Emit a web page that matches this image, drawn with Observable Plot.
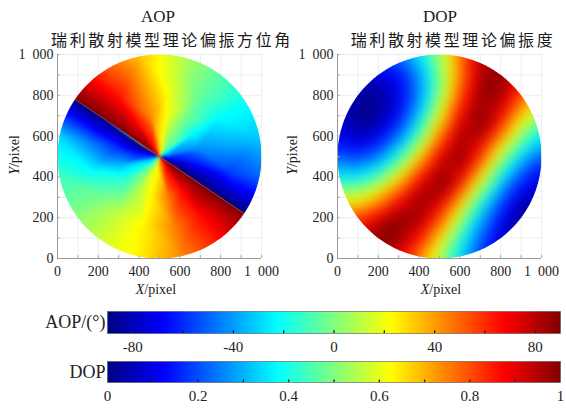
<!DOCTYPE html>
<html><head><meta charset="utf-8">
<script src="https://cdn.jsdelivr.net/npm/d3@7"></script>
<script src="https://cdn.jsdelivr.net/npm/@observablehq/plot@0.6"></script>
<style>
body{margin:0;background:#fff;}
#fig{position:relative;width:566px;height:408px;overflow:hidden;background:#fff;font-family:"Liberation Serif","Times New Roman",serif;color:#1a1a1a;}
.abs{position:absolute;white-space:nowrap;line-height:1;}
.c{transform:translate(-50%,-50%);}
.t1{font-size:17px;}
.t2{font-family:"Noto Sans CJK SC",sans-serif;font-size:16px;letter-spacing:2.6px;}
.lab{font-size:14px;}
.rot{transform:translate(-50%,-50%) rotate(-90deg);}
svg{position:absolute;overflow:visible;}
</style></head><body><div id="fig"></div>
<script>
// ---------- data ----------
const gridX = [0, 100, 200, 300, 400, 500, 600, 700, 800, 900, 1000];
const gridY = [1000, 900, 800, 700, 600, 500, 400, 300, 200, 100, 0];
// DOP sampled on the 100-pixel grid (rows: y = 1000 ... 0)
const dopRows = [
  [0.43, 0.28, 0.22, 0.25, 0.36, 0.54, 0.76, 0.94, 1.00, 0.95, 0.86],
  [0.23, 0.11, 0.08, 0.13, 0.27, 0.49, 0.75, 0.95, 0.99, 0.90, 0.78],
  [0.12, 0.03, 0.02, 0.10, 0.26, 0.51, 0.80, 0.98, 0.97, 0.81, 0.66],
  [0.08, 0.01, 0.03, 0.13, 0.33, 0.61, 0.89, 1.00, 0.89, 0.68, 0.51],
  [0.11, 0.06, 0.10, 0.23, 0.46, 0.76, 0.97, 0.96, 0.75, 0.51, 0.35],
  [0.21, 0.18, 0.24, 0.41, 0.66, 0.91, 1.00, 0.83, 0.56, 0.34, 0.21],
  [0.37, 0.36, 0.45, 0.63, 0.86, 1.00, 0.91, 0.65, 0.38, 0.19, 0.10],
  [0.58, 0.59, 0.69, 0.85, 0.99, 0.96, 0.74, 0.46, 0.23, 0.08, 0.03],
  [0.79, 0.81, 0.90, 0.99, 0.98, 0.82, 0.56, 0.31, 0.13, 0.03, 0.00],
  [0.94, 0.96, 1.00, 0.98, 0.87, 0.66, 0.42, 0.22, 0.08, 0.02, 0.03],
  [1.00, 1.00, 0.98, 0.90, 0.74, 0.54, 0.34, 0.19, 0.09, 0.07, 0.11]
];
// AOP sampled along rays from the image centre (azimuth in degrees, counter-clockwise from +X)
const aopRadii = [15, 50, 200, 350, 500];
const aopUpperAz = [146, 123.5, 101, 78.5, 56, 33.5, 11, -11.5, -34];
const aopUpper = [
  [90, 68, 45, 23, 0, -22, -45, -67, -90],
  [90, 68, 45, 23, 0, -22, -45, -67, -90],
  [90, 67, 42, 20, -2, -23, -42, -64, -90],
  [90, 64, 38, 15, -5, -22, -36, -56, -90],
  [90, 56, 33, 11, -5, -20, -32, -50, -90]
];
const aopLowerAz = [146, 168.5, 191, 213.5, 236, 258.5, 281, 303.5, 326];
const aopLower = [
  [-90, -68, -45, -23, 0, 22, 45, 68, 90],
  [-90, -68, -45, -23, 0, 22, 45, 68, 90],
  [-90, -60, -36, -15, 6, 24, 45, 67, 90],
  [-90, -45, -22, -3, 13, 25, 44, 65, 90],
  [-90, -30, -12, 0, 14, 25, 42, 63, 90]
];
const axisTicks = [0, 200, 400, 600, 800, 1000];
const minorTicks = [100, 200, 300, 400, 500, 600, 700, 800, 900, 1000];
const aopBarTicks = [-80, -40, 0, 40, 80];
const aopBarMinor = [-80, -60, -40, -20, 0, 20, 40, 60, 80];
const dopBarTicks = [0, 0.2, 0.4, 0.6, 0.8, 1];
const dopBarMinor = [0.1, 0.2, 0.3, 0.4, 0.5, 0.6, 0.7, 0.8, 0.9];
const jetStops = [0, 0.125, 0.375, 0.625, 0.875, 1];
const jetColors = ["#00007f", "#0000ff", "#00ffff", "#ffff00", "#ff0000", "#7f0000"];
const aopRange = [-90, 90];
const dopRange = [0, 1];

// ---------- build tables ----------
const dopData = [];
dopRows.forEach((row, j) => row.forEach((v, i) => dopData.push({x: gridX[i], y: gridY[j], v})));
const rad = d => d * Math.PI / 180;
function polarTable(az, rows) {
  const out = [];
  rows.forEach((row, j) => row.forEach((v, i) => out.push({
    x: 500 + aopRadii[j] * Math.cos(rad(az[i])), y: 500 + aopRadii[j] * Math.sin(rad(az[i])), v})));
  return out;
}
const aopUpperData = polarTable(aopUpperAz, aopUpper);
const aopLowerData = polarTable(aopLowerAz, aopLower);
const meridian = [aopUpperAz[0], aopUpperAz[aopUpperAz.length - 1]].map(a => ({x: 500 + 500 * Math.cos(rad(a)), y: 500 + 500 * Math.sin(rad(a))}));
const stopsFor = ([a, b]) => jetStops.map(t => a + (b - a) * t);
const fmt = d => d === 1000 ? "1\u2002000" : String(d);

const fig = document.getElementById("fig");
const ns = "http://www.w3.org/2000/svg";

function panel(left, marginLeft, rasters, range, extra) {
  const p = Plot.plot({
    width: 283, height: 260,
    marginTop: 10, marginBottom: 46, marginLeft, marginRight: 283 - marginLeft - 204,
    x: {domain: [0, 1000]}, y: {domain: [0, 1000]},
    color: {type: "linear", domain: stopsFor(range), range: jetColors, interpolate: "rgb"},
    style: {fontFamily: "Liberation Serif, Times New Roman, serif", fontSize: "14px", color: "#222", background: "transparent"},
    marks: [
      Plot.gridX(minorTicks, {stroke: "#000", strokeOpacity: 0.07}),
      Plot.gridY(minorTicks, {stroke: "#000", strokeOpacity: 0.07}),
      ...rasters.map(r => Plot.raster(r.data, {x: "x", y: "y", fill: "v", interpolate: "barycentric", x1: 0, y1: 0, x2: 1000, y2: 1000, blur: r.blur || 0})),
      ...extra,
      Plot.ruleX(minorTicks, {y1: 0, y2: 14, stroke: "#aaa"}),
      Plot.ruleY(minorTicks, {x1: 0, x2: 14, stroke: "#aaa"}),
      Plot.ruleX([0], {stroke: "#999"}),
      Plot.ruleY([0], {stroke: "#999"}),
      Plot.axisX(axisTicks, {tickSize: 0, tickPadding: 8, tickFormat: fmt, label: null}),
      Plot.axisY(axisTicks, {tickSize: 0, tickPadding: 4, tickFormat: fmt, label: null})
    ]
  });
  p.style.left = left + "px"; p.style.top = "44px";
  fig.appendChild(p);
  return p;
}

function clipGroups(p, shapes, prefix) {
  const sx = p.scale("x"), sy = p.scale("y");
  const defs = document.createElementNS(ns, "defs");
  p.insertBefore(defs, p.firstChild);
  const groups = p.querySelectorAll('g[aria-label="raster"]');
  groups.forEach((g, k) => {
    const cp = document.createElementNS(ns, "clipPath");
    cp.setAttribute("id", prefix + k);
    const path = document.createElementNS(ns, "path");
    path.setAttribute("d", "M" + shapes[k].map(([x, y]) => `${sx.apply(x).toFixed(2)},${sy.apply(y).toFixed(2)}`).join("L") + "Z");
    cp.appendChild(path); defs.appendChild(cp);
    g.setAttribute("clip-path", `url(#${prefix}${k})`);
  });
}
function arc(a0, a1, withCentre) {
  const pts = [];
  const n = Math.ceil(Math.abs(a1 - a0));
  for (let i = 0; i <= n; i++) { const a = rad(a0 + (a1 - a0) * i / n); pts.push([500 + 500 * Math.cos(a), 500 + 500 * Math.sin(a)]); }
  if (withCentre) pts.push([500, 500]);
  return pts;
}

// AOP panel
const pA = panel(0, 57, [{data: aopUpperData, blur: 1}, {data: aopLowerData, blur: 1}], aopRange,
  [Plot.line(meridian, {x: "x", y: "y", stroke: "#6c5a7a", strokeWidth: 0.9, strokeOpacity: 0.5})]);
clipGroups(pA, [arc(aopUpperAz[0], aopUpperAz[aopUpperAz.length - 1], true), arc(aopLowerAz[0], aopLowerAz[aopLowerAz.length - 1], true)], "clipA");

// DOP panel
const pD = panel(283, 54, [{data: dopData, blur: 6}], dopRange, []);
clipGroups(pD, [arc(0, 360, false)], "clipD");

// colour bars
function colorbar(top, range, ticks, minor, label, barH) {
  const p = Plot.plot({
    width: 566, height: barH + 6 + 26,
    marginTop: 6, marginBottom: 26, marginLeft: 107, marginRight: 6,
    x: {domain: range}, y: {domain: [0, 1], axis: null},
    color: {type: "linear", domain: stopsFor(range), range: jetColors, interpolate: "rgb"},
    style: {fontFamily: "Liberation Serif, Times New Roman, serif", fontSize: "15px", color: "#222", background: "transparent"},
    marks: [
      Plot.raster({x1: range[0], x2: range[1], y1: 0, y2: 1, fill: (x, y) => x}),
      Plot.ruleX(minor, {y1: 0, y2: 0.12, stroke: "#222", strokeWidth: 1.3}),
      Plot.frame({stroke: "#555", strokeWidth: 0.6}),
      Plot.axisX(ticks, {tickSize: 0, tickPadding: 8, tickFormat: d => String(d), label: null}),
      Plot.text([label], {text: d => d, frameAnchor: "left", dx: -2, textAnchor: "end", fontSize: 18})
    ]
  });
  p.style.left = "0px"; p.style.top = top + "px";
  fig.appendChild(p);
}
colorbar(305, aopRange, aopBarTicks, aopBarMinor, "AOP/(°)", 22);
colorbar(355, dopRange, dopBarTicks, dopBarMinor, "DOP", 21);

// titles and axis labels
function addText(html, cls, x, y) {
  const d = document.createElement("div");
  d.className = "abs " + cls; d.innerHTML = html;
  d.style.left = x + "px"; d.style.top = y + "px";
  fig.appendChild(d);
}
addText("AOP", "c t1", 158, 16);
addText("瑞利散射模型理论偏振方位角", "c t2", 172, 39);
addText("DOP", "c t1", 440, 16);
addText("瑞利散射模型理论偏振度", "c t2", 453, 39);
addText("<i>Y</i>/pixel", "rot lab", 15, 155);
addText("<i>Y</i>/pixel", "rot lab", 293, 155);
addText("<i>X</i>/pixel", "c lab", 156, 290);
addText("<i>X</i>/pixel", "c lab", 441, 290);
</script></body></html>
